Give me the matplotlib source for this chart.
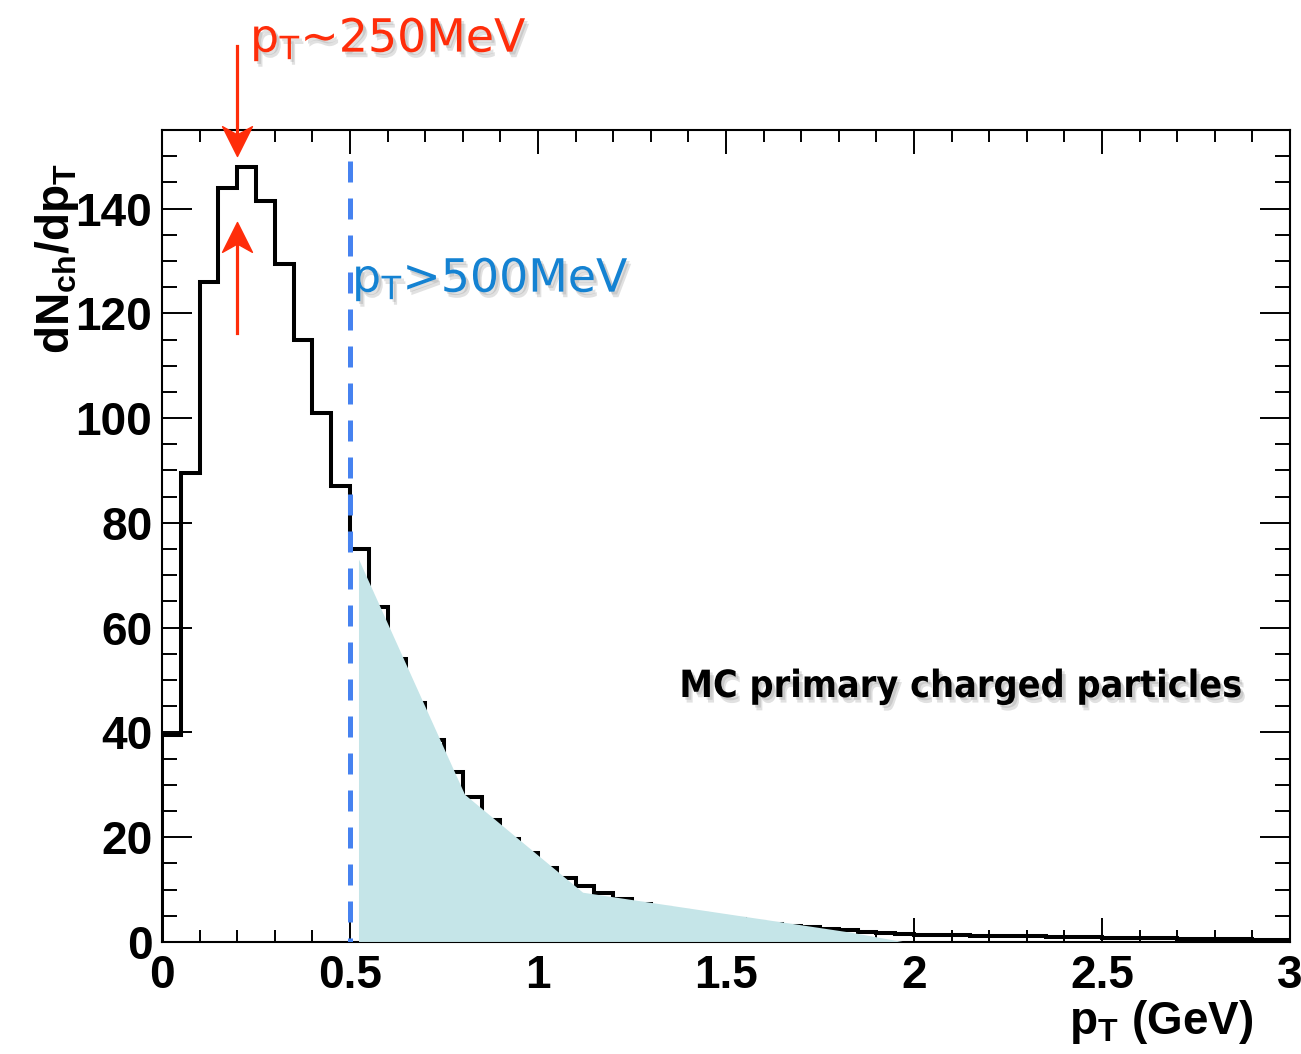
# pT spectrum of MC primary charged particles, ROOT-like histogram look

import numpy as np
import matplotlib
matplotlib.use('Agg')
import matplotlib.pyplot as plt
import matplotlib.patheffects as pe
from matplotlib.path import Path
from matplotlib.ticker import MultipleLocator, FuncFormatter

## DATA ##########################
bin_edges = np.round(np.arange(0, 3.0001, 0.05), 2)
counts = [39.5, 89.5, 126, 144, 148, 141.5, 129.5, 115, 101, 87,
          75, 64, 54, 45.6, 38.5, 32.4, 27.6, 23.2, 19.7, 16.9,
          14.2, 12.3, 10.7, 9.4, 8.2, 7.3, 6.5, 5.9, 5.3, 4.8,
          4.3, 3.9, 3.5, 3.1, 2.8, 2.5, 2.2, 1.9, 1.7, 1.55,
          1.4, 1.35, 1.3, 1.2, 1.15, 1.1, 1.05, 1.0, 0.95, 0.9,
          0.82, 0.78, 0.74, 0.7, 0.65, 0.6, 0.55, 0.5, 0.45, 0.4]

# hand drawn shaded area (pT > 500 MeV)
fill_x = [0.524, 0.524, 0.806, 1.12, 1.83, 1.97]
fill_y = [0, 73, 28.1, 9.4, 1.8, 0]

cut_pt = 0.5
peak_pt = 0.2
xticks = [0, 0.5, 1, 1.5, 2, 2.5, 3]
yticks = [0, 20, 40, 60, 80, 100, 120, 140]
##################################

RED = '#ff2d0a'
BLUE_LINE = '#4682f0'
BLUE_TEXT = '#1482d2'
FILL = '#c5e5e8'

fig = plt.figure(figsize=(13.01, 10.54), dpi=100)
ax = fig.add_axes([0.1245, 0.1063, 0.867, 0.7704])

ax.stairs(counts, bin_edges, color='black', lw=2.9, baseline=0, zorder=2)
ax.fill(fill_x, fill_y, color=FILL, lw=0, zorder=3)
ax.plot([cut_pt, cut_pt], [149, 0], color=BLUE_LINE, lw=3.6,
        dashes=(4.2, 3.2), zorder=4)

ax.set_xlim(0, 3)
ax.set_ylim(0, 155)
ax.set_xticks(xticks)
ax.set_yticks(yticks)
ax.xaxis.set_minor_locator(MultipleLocator(0.1))
ax.yaxis.set_minor_locator(MultipleLocator(5))
ax.xaxis.set_major_formatter(FuncFormatter(lambda v, p: '%g' % v))
ax.tick_params(which='both', direction='in', top=True, right=True, width=1.4)
ax.tick_params(axis='y', which='major', length=21.5, pad=7)
ax.tick_params(axis='y', which='minor', length=11)
ax.tick_params(axis='x', which='major', length=17, pad=8.5)
ax.tick_params(axis='x', which='minor', length=8.5)
for lab in ax.get_xticklabels() + ax.get_yticklabels():
    lab.set_fontfamily('Liberation Sans')
    lab.set_fontweight('bold')
    lab.set_fontsize(33)
for sp in ax.spines.values():
    sp.set_linewidth(1.5)

## arrows ########################
def head(down):
    s = -1 if down else 1
    verts = [(0, 0), (-0.5, -1 * s), (0, -0.72 * s), (0.5, -1 * s), (0, 0)]
    codes = [Path.MOVETO, Path.LINETO, Path.LINETO, Path.LINETO, Path.CLOSEPOLY]
    return Path(verts, codes)

ax.plot([peak_pt, peak_pt], [171, 153], color=RED, lw=2.3, clip_on=False, zorder=5)
ax.plot([peak_pt], [150], marker=head(True), ms=43, color=RED, mec=RED,
        clip_on=False, zorder=5)
ax.plot([peak_pt, peak_pt], [116.3, 133], color=RED, lw=2.3, zorder=5)
ax.plot([peak_pt], [137.5], marker=head(False), ms=43, color=RED, mec=RED,
        zorder=5)

shadow = [pe.SimplePatchShadow(offset=(3, -4), shadow_rgbFace='#888888', alpha=0.25),
          pe.SimplePatchShadow(offset=(2, -2), shadow_rgbFace='#888888', alpha=0.25),
          pe.Normal()]

fig.text(250 / 1301, 1 - 52 / 1054, r'p$_\mathregular{T}$~250MeV', color=RED,
         fontsize=33, family='DejaVu Sans', ha='left', va='baseline',
         path_effects=shadow)
fig.text(352 / 1301, 1 - 292 / 1054, r'p$_\mathregular{T}$>500MeV', color=BLUE_TEXT,
         fontsize=33, family='DejaVu Sans', ha='left', va='baseline',
         path_effects=shadow, zorder=6)
fig.text(1243 / 1301, 1 - 697 / 1054, 'MC primary charged particles', color='black',
         fontsize=27, family='DejaVu Sans', weight='bold', stretch='condensed',
         ha='right', va='baseline', path_effects=shadow)

## axis titles ###################
fig.text(1253 / 1301, 1 - 1034 / 1054, r'p$_\mathregular{T}$ (GeV)', fontsize=33,
         family='Liberation Sans', weight='bold', ha='right', va='baseline')
fig.text(57 / 1301, 1 - 163 / 1054, r'dN$_\mathregular{ch}$/dp$_\mathregular{T}$',
         fontsize=33, family='Liberation Sans', weight='bold', rotation=90,
         ha='center', va='top')

fig.savefig('out.png', dpi=100)
